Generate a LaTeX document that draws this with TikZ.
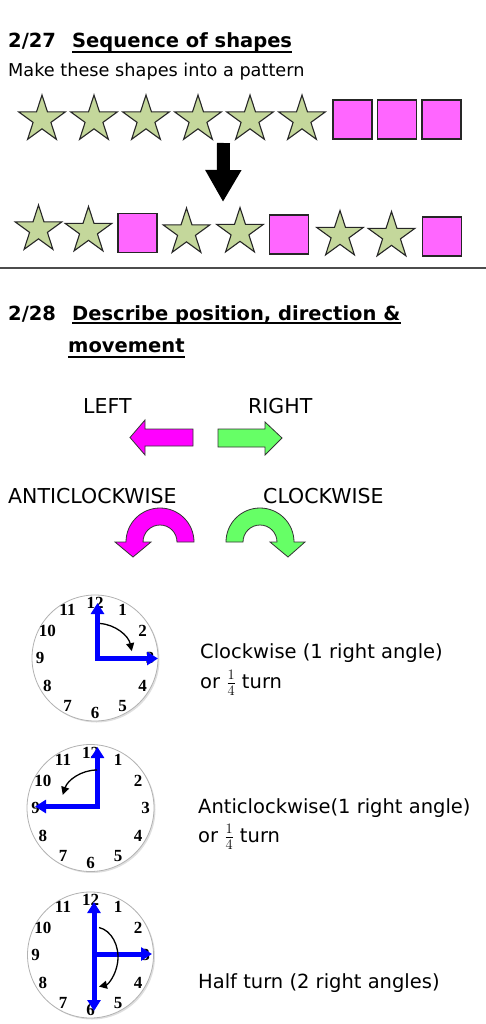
\documentclass[tikz,border=0pt]{standalone}
\usepackage{fontspec}
\setmainfont{DejaVu Sans}
\newfontfamily\numfont{Liberation Serif}
\usetikzlibrary{shapes.geometric,arrows.meta,shadows,calc,positioning}

\definecolor{starfill}{HTML}{C4D79B}
\definecolor{boxfill}{HTML}{FF66FF}
\definecolor{leftpink}{HTML}{FF00FF}
\definecolor{rightgreen}{HTML}{66FF66}
\definecolor{handblue}{HTML}{0000FF}

\begin{document}
\begin{tikzpicture}
[x=1pt, y=-1pt, node distance=52pt, font=\fontsize{19.5}{22}\selectfont]

\tikzstyle{starnode}=[star, star points=5, star point ratio=2.618, minimum size=49pt, inner sep=0pt, draw=black!85, line width=1.1pt, fill=starfill]
\tikzstyle{boxnode}=[rectangle, minimum size=39pt, inner sep=0pt, draw=black!85, line width=1.3pt, fill=boxfill]
\tikzstyle{txt}=[anchor=base west, inner sep=0pt]
\tikzstyle{caps}=[txt, font=\fontsize{20.5}{24}\selectfont]
\tikzstyle{head}=[txt, font=\fontsize{19.5}{24}\selectfont\bfseries]
\tikzstyle{uline}=[line width=1.2pt]
\tikzstyle{clockface}=[draw=gray!60, line width=0.8pt, fill=white, drop shadow={opacity=0.25, shadow xshift=1.5pt, shadow yshift=-1.5pt}]
\tikzstyle{clocknum}=[inner sep=0pt, font=\numfont\fontsize{17}{17}\selectfont\bfseries]
\tikzstyle{hand}=[line width=5pt, handblue, line join=miter]
\tikzstyle{turn}=[line width=1.3pt, -{Triangle[width=8pt,length=8pt]}]
\tikzset{handtip/.tip={Triangle[width=13pt,length=11pt]}}

\useasboundingbox (0,0) rectangle (486,1024);

% 2/27
\node[head]	(n27)	at (8,48)	{2/27};
\node[head]	(h27)	at (72,48)	{Sequence of shapes};
\draw[uline] ([yshift=-4pt]h27.base west) -- ([yshift=-4pt]h27.base east);
\node[txt, font=\fontsize{17.7}{20}\selectfont]	(sub)	at (8,77)	{Make these shapes into a pattern};

\node[starnode]	(s1)	at (42,119.5)	{};
\node[starnode]	(s2)	[right of=s1]	{};
\node[starnode]	(s3)	[right of=s2]	{};
\node[starnode]	(s4)	[right of=s3]	{};
\node[starnode]	(s5)	[right of=s4]	{};
\node[starnode]	(s6)	[right of=s5]	{};
\node[boxnode]	(q1)	[right of=s6, node distance=50.5pt]	{};
\node[boxnode]	(q2)	[right of=q1, node distance=44.5pt]	{};
\node[boxnode]	(q3)	[right of=q2, node distance=44.5pt]	{};

\coordinate (down1) at (223.5,143);
\coordinate (down2) at (223,202);
\draw[line width=13pt, -{Triangle[width=34pt,length=32pt]}] (down1) -- (down2);

\node[starnode]	(r1)	at (38.5,229.5)	{};
\node[starnode]	(r2)	at (88.5,231)	{};
\node[boxnode]	(p1)	at (137.5,233)	{};
\node[starnode]	(r3)	at (186.5,232.5)	{};
\node[starnode]	(r4)	at (240,232)	{};
\node[boxnode]	(p2)	at (289,234.5)	{};
\node[starnode]	(r5)	at (340,235)	{};
\node[starnode]	(r6)	at (391.5,236)	{};
\node[boxnode]	(p3)	at (442,236.5)	{};

\draw[gray!60!black, line width=1.5pt] (0,268) -- (486,268);

% 2/28
\node[head]	(n28)	at (8,320)	{2/28};
\node[head]	(h28)	at (72,320)	{Describe position, direction \&};
\node[head]	(h28b)	at (68,352)	{movement};
\draw[uline] ([yshift=-3pt]h28.base west) -- ([yshift=-3pt]h28.base east);
\draw[uline] ([yshift=-5pt]h28b.base west) -- ([yshift=-5pt]h28b.base east);

\node[caps]	(left)	at (83,413)	{LEFT};
\node[caps]	(right)	at (248,413)	{RIGHT};
\filldraw[fill=leftpink, draw=black!80, line width=0.8pt]
  (193,429) -- (145,429) -- (145,420) -- (130,437.5) -- (145,455) -- (145,446) -- (193,446) -- cycle;
\filldraw[fill=rightgreen, draw=black!80, line width=0.8pt]
  (218,429) -- (265,429) -- (265,422) -- (282,438) -- (265,455) -- (265,447) -- (218,447) -- cycle;

\node[caps]	(anti)	at (8,503)	{ANTICLOCKWISE};
\node[caps]	(clock)	at (263,503)	{CLOCKWISE};
\filldraw[fill=leftpink, draw=black!80, line width=0.8pt]
  (194,542) arc[start angle=0, end angle=-180, radius=34] -- (115,542) -- (133,557) -- (151,542) -- (143,542)
  arc[start angle=-180, end angle=0, radius=17] -- cycle;
\filldraw[fill=rightgreen, draw=black!80, line width=0.8pt]
  (226,542) arc[start angle=180, end angle=360, radius=34] -- (305,542) -- (288,557) -- (270,542) -- (277,542)
  arc[start angle=0, end angle=-180, radius=17] -- cycle;

% clock 1
\node[clockface, circle, minimum size=126pt, inner sep=0pt] (k1) at (95,658) {};
\foreach \n in {1,...,12}
  \node[clocknum] (k1-\n) at ([shift={(30*\n-90:55)}]k1.center) {\n};
\coordinate (c1h) at (97.5,658.5);
\coordinate (t1a) at (97.5,603);
\coordinate (t1b) at (158,658.5);
\draw[hand, handtip-handtip] (t1a) -- (c1h) -- (t1b);
\coordinate (a1) at (100,623.5);
\draw[turn] (a1) arc[start angle=-86, end angle=-12, radius=35];
\node[txt]	(cw1)	at (200,658)	{Clockwise (1 right angle)};
\node[txt]	(cw2)	at (200,688)	{or $\frac{1}{4}$ turn};

% clock 2
\node[clockface, circle, minimum size=127pt, inner sep=0pt] (k2) at (90.5,808) {};
\foreach \n in {1,...,12}
  \node[clocknum] (k2-\n) at ([shift={(30*\n-90:55)}]k2.center) {\n};
\coordinate (c2h) at (97.5,806.5);
\coordinate (t2a) at (97.5,747);
\coordinate (t2b) at (35,806.5);
\draw[hand, handtip-handtip] (t2a) -- (c2h) -- (t2b);
\coordinate (a2) at (97,770);
\draw[turn] (a2) arc[start angle=-90, end angle=-162, radius=36];
\node[txt]	(acw1)	at (198,813)	{Anticlockwise(1 right angle)};
\node[txt]	(acw2)	at (198,842)	{or $\frac{1}{4}$ turn};

% clock 3
\node[clockface, circle, minimum size=126pt, inner sep=0pt] (k3) at (90.5,955) {};
\foreach \n in {1,...,12}
  \node[clocknum] (k3-\n) at ([shift={(30*\n-90:55)}]k3.center) {\n};
\coordinate (c3h) at (94,954);
\coordinate (t3a) at (94,902);
\coordinate (t3c) at (94,1011);
\coordinate (t3b) at (152,954);
\draw[hand, handtip-handtip] (t3a) -- (t3c);
\draw[hand, -handtip] (c3h) -- (t3b);
\coordinate (a3) at (99,927.5);
\draw[turn] (a3) arc[start angle=-80, end angle=80, x radius=23, y radius=30];
\node[txt]	(half)	at (198,988)	{Half turn (2 right angles)};
\end{tikzpicture}
\end{document}
